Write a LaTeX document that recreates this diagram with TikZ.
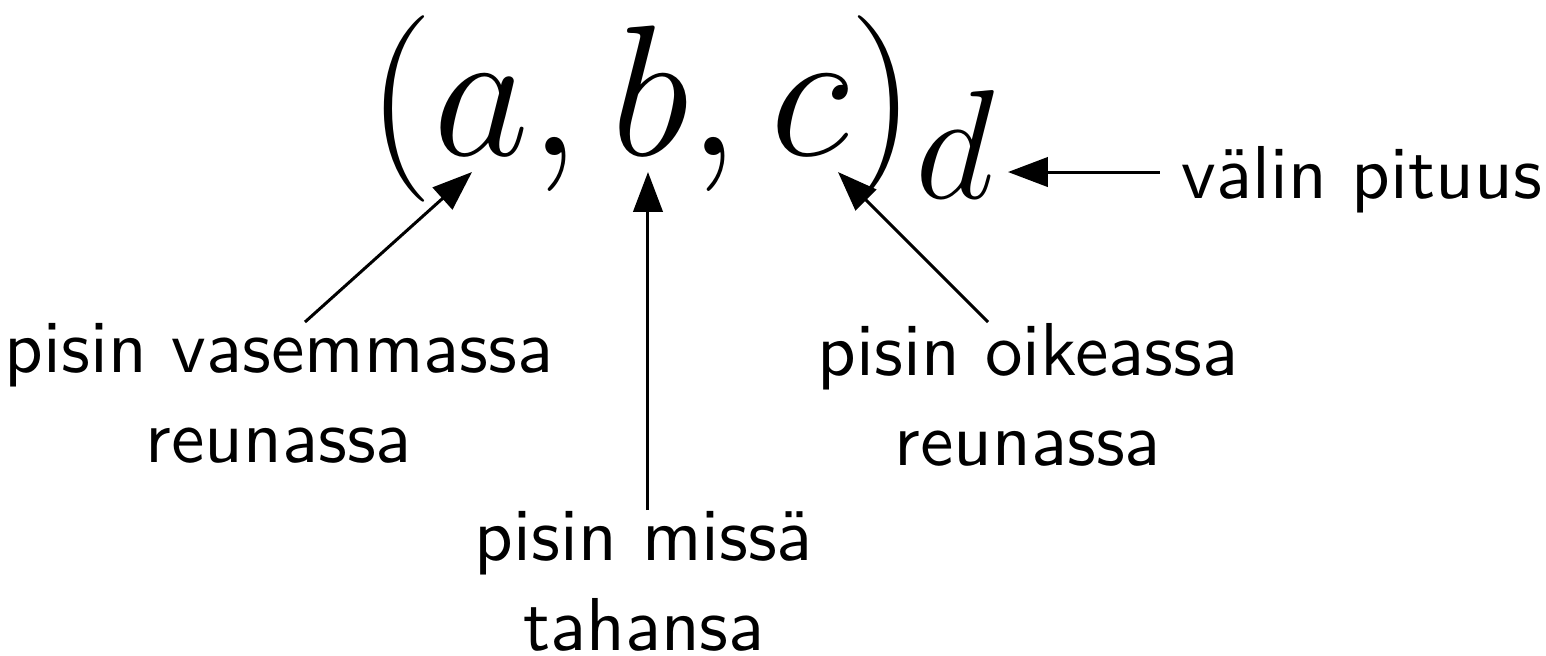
\documentclass[tikz,border=0pt]{standalone}
\usepackage{amsmath, amssymb}
\usetikzlibrary{arrows.meta, positioning, calc}

\tikzset{
    lbl/.style={font=\sffamily, align=center, inner sep=0pt},
    arr/.style={-{Triangle[length=5.3pt, width=3.9pt]}, line width=0.4pt}
}

\begin{document}
\begin{tikzpicture}[x=0.04686mm, y=-0.04686mm]
    \useasboundingbox (0,0) rectangle (1546,655);
    % the interval
    \node[anchor=base west, inner sep=0pt] (tuple) at (366,155) {\Huge $(a,b,c)_d$};
    \coordinate (atip) at (472,172);
    \coordinate (btip) at (648,172);
    \coordinate (ctip) at (838,172);
    \coordinate (dtip) at (1008,172);
    % labels
    \node[lbl, anchor=north] (left) at (279,322) {pisin vasemmassa\\reunassa};
    \node[lbl, anchor=north] (mid) at (644,510) {pisin missä\\tahansa};
    \node[lbl, anchor=north] (right) at (1028,322) {pisin oikeassa\\reunassa};
    \node[lbl, anchor=base west] (len) at (1180,198) {välin pituus};
    % arrows
    \draw[arr] ($(left.north)+(26,0)$) -- (atip);
    \draw[arr] (mid.north -| btip) -- (btip);
    \draw[arr] ($(right.north)+(-40,0)$) -- (ctip);
    \draw[arr] (len.west |- dtip) ++(-20,0) -- (dtip);
\end{tikzpicture}
\end{document}
